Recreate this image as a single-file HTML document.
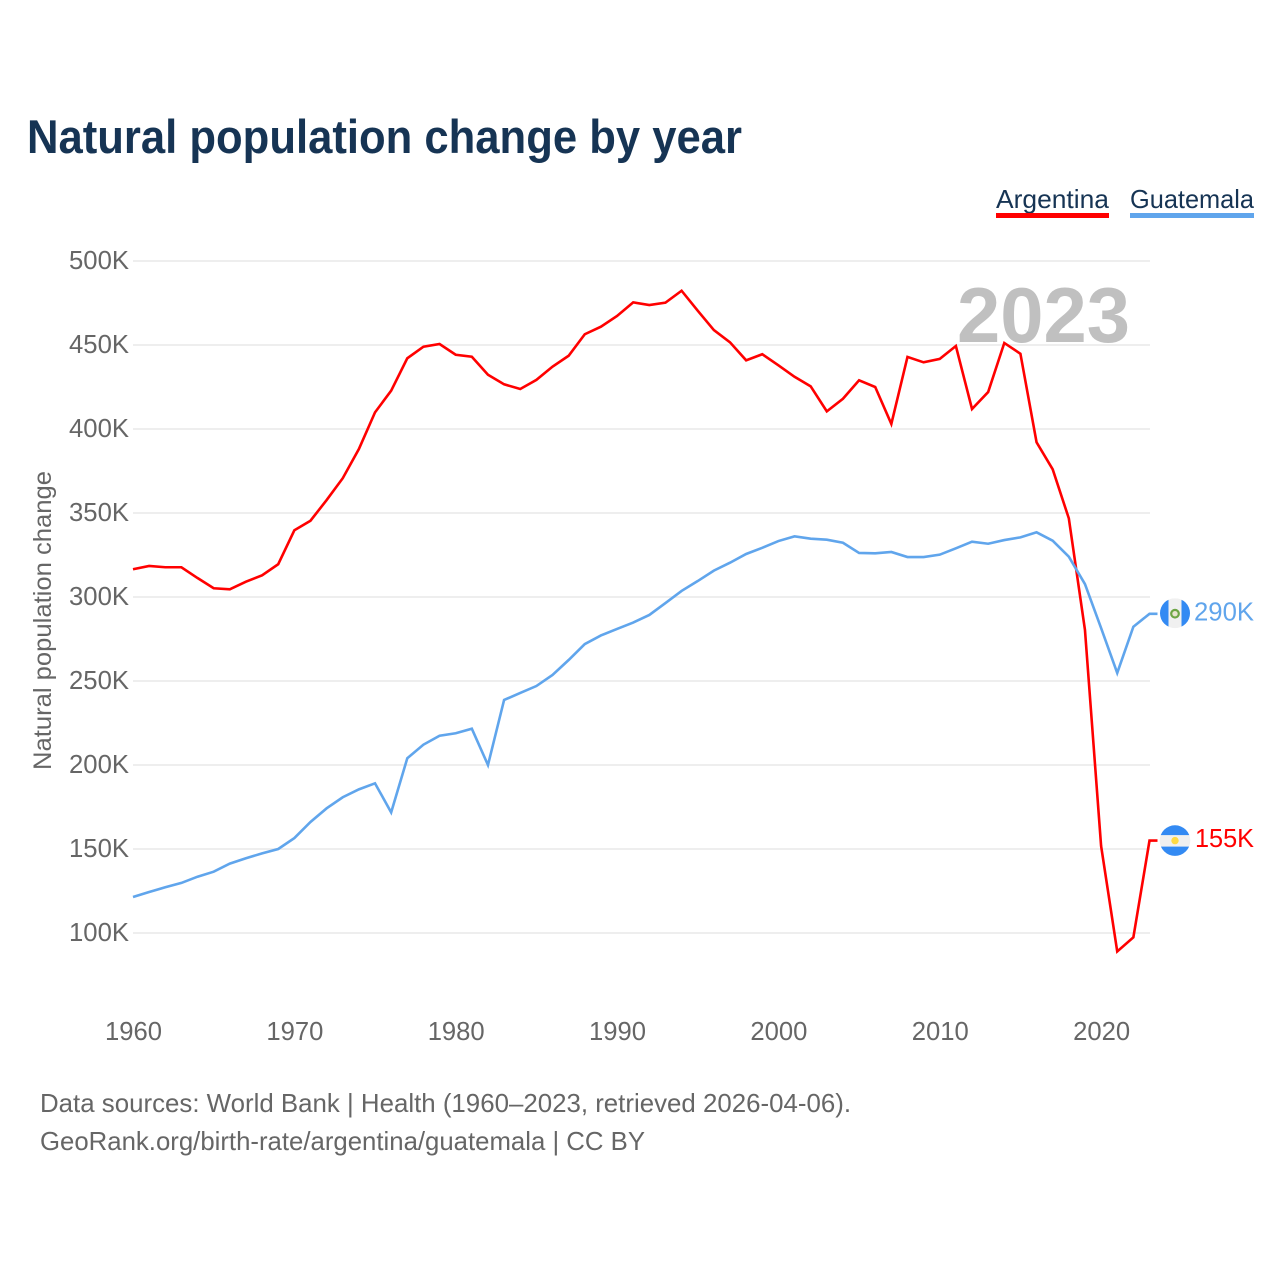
<!DOCTYPE html>
<html lang="en">
<head>
<meta charset="utf-8">
<title>Natural population change by year</title>
<style>
html,body{margin:0;padding:0;background:#fff;}
svg{display:block;}
text{font-family:"Liberation Sans",sans-serif;}
</style>
</head>
<body>
<svg id="chart" xmlns="http://www.w3.org/2000/svg" width="1280" height="1280" viewBox="0 0 1280 1280">
  <rect x="0" y="0" width="1280" height="1280" fill="#ffffff"/>
  <text x="27" y="153" font-size="47" font-weight="700" fill="#163454" textLength="715" lengthAdjust="spacingAndGlyphs">Natural population change by year</text>

  <g>
    <text x="996" y="208" font-size="26" fill="#163454" textLength="113" lengthAdjust="spacingAndGlyphs">Argentina</text>
    <rect x="996" y="213" width="113" height="5" fill="#ff0000"/>
  </g>
  <g>
    <text x="1130" y="208" font-size="26" fill="#163454" textLength="124" lengthAdjust="spacingAndGlyphs">Guatemala</text>
    <rect x="1130" y="213" width="124" height="5" fill="#60a5ec"/>
  </g>

  <g id="grid"></g>
  <g id="yTicks"></g>
  <g id="xTicks"></g>

  <text transform="translate(51,770) rotate(-90)" x="0" y="0" font-size="25" fill="#666666" textLength="299" lengthAdjust="spacingAndGlyphs">Natural population change</text>

  <text id="yearLabel" x="1130" y="342" text-anchor="end" font-size="78" font-weight="700" fill="#c0c0c0" textLength="173" lengthAdjust="spacingAndGlyphs">2023</text>

  <g id="series"></g>

  <g id="flagGuatemala">
    <clipPath id="clipG"><circle cx="0" cy="0" r="15"/></clipPath>
    <g clip-path="url(#clipG)">
      <rect x="-15" y="-15" width="30" height="30" fill="#f0f0f0"/>
      <rect x="-15" y="-15" width="8.5" height="30" fill="#338af3"/>
      <rect x="6.5" y="-15" width="8.5" height="30" fill="#338af3"/>
    </g>
    <circle cx="0" cy="0.5" r="3.8" fill="#e8e4d0" stroke="#6da544" stroke-width="2.2"/>
  </g>
  <g id="flagArgentina">
    <clipPath id="clipA"><circle cx="0" cy="0" r="15.3"/></clipPath>
    <g clip-path="url(#clipA)">
      <rect x="-16" y="-16" width="32" height="32" fill="#f0f0f0"/>
      <rect x="-16" y="-16" width="32" height="10.5" fill="#338af3"/>
      <rect x="-16" y="6" width="32" height="10" fill="#338af3"/>
    </g>
    <circle cx="0" cy="0" r="3.7" fill="#ffda44"/>
  </g>

  <g id="endLabels"></g>

  <text x="40" y="1112" font-size="26" fill="#666666" textLength="811" lengthAdjust="spacingAndGlyphs">Data sources: World Bank | Health (1960–2023, retrieved 2026-04-06).</text>
  <text x="40" y="1150" font-size="26" fill="#666666" textLength="605" lengthAdjust="spacingAndGlyphs">GeoRank.org/birth-rate/argentina/guatemala | CC BY</text>
</svg>
<script>
const firstYear = 1960;
const yTickValues = [100, 150, 200, 250, 300, 350, 400, 450, 500];
const yTickLabels = ["100K", "150K", "200K", "250K", "300K", "350K", "400K", "450K", "500K"];
const xTickValues = [1960, 1970, 1980, 1990, 2000, 2010, 2020];
const xTickLabels = ["1960", "1970", "1980", "1990", "2000", "2010", "2020"];
const argentinaValues = [
  316.5, 318.5, 317.7, 317.7, 311.3, 305.2, 304.6, 309.1, 312.9, 319.5,
  339.7, 345.4, 357.7, 370.7, 388.1, 409.9, 422.8, 442.1, 449.0, 450.6,
  444.2, 443.0, 432.3, 426.6, 423.8, 429.2, 437.1, 443.6, 456.4, 460.9,
  467.3, 475.4, 473.8, 475.2, 482.3, 470.4, 458.9, 451.6, 440.9, 444.5,
  437.9, 431.1, 425.4, 410.5, 418.0, 429.0, 425.0, 403.0, 442.9, 439.7,
  441.7, 449.4, 411.9, 422.0, 451.2, 444.8, 392.1, 376.0, 346.8, 280.4,
  151.8, 89.0, 97.4, 155.0
];
const guatemalaValues = [
  121.4, 124.4, 127.2, 129.8, 133.5, 136.5, 141.3, 144.5, 147.4, 150.0,
  156.5, 166.1, 174.2, 180.8, 185.5, 189.1, 171.8, 204.0, 212.1, 217.4,
  218.9, 221.6, 200.0, 238.7, 242.9, 247.0, 253.6, 262.5, 272.0, 277.1,
  281.0, 284.8, 289.3, 296.4, 303.6, 309.5, 315.7, 320.4, 325.6, 329.3,
  333.3, 336.1, 334.7, 334.1, 332.3, 326.2, 326.0, 326.8, 323.8, 323.8,
  325.2, 329.0, 332.9, 331.7, 333.9, 335.5, 338.5, 333.5, 324.0, 307.7,
  281.5, 254.8, 282.3, 290.0
];

const NS = "http://www.w3.org/2000/svg";
const lastYear = firstYear + argentinaValues.length - 1;
function xScale(year) { return 133 + (year - 1960) * (1149.5 - 133) / 63; }
function yScale(v) { return 933 - (v - 100) * 1.68; }
function svgEl(tag, parent, attrs) {
  const el = document.createElementNS(NS, tag);
  for (const k in attrs) el.setAttribute(k, attrs[k]);
  parent.appendChild(el);
  return el;
}

const gridGroup = document.getElementById("grid");
const yGroup = document.getElementById("yTicks");
yTickValues.forEach(function (v, i) {
  const line = svgEl("line", gridGroup, { x1: 133, x2: 1150, y1: yScale(v), y2: yScale(v), stroke: "#eeeeee", "stroke-width": 2 });
  
  
  const t = svgEl("text", yGroup, { x: 129, y: yScale(v) + 8, "text-anchor": "end", "font-size": 25.5, fill: "#666666", textLength: 60, lengthAdjust: "spacingAndGlyphs" });
  
  
  t.textContent = yTickLabels[i];
});

const xGroup = document.getElementById("xTicks");
xTickValues.forEach(function (year, i) {
  const t = svgEl("text", xGroup, { x: xScale(year) + 0.5, y: 1040, "text-anchor": "middle", "font-size": 26, fill: "#666666", textLength: 57, lengthAdjust: "spacingAndGlyphs" });
  
  
  t.textContent = xTickLabels[i];
});

function seriesPoints(values) {
  const pts = values.map(function (v, i) { return xScale(firstYear + i).toFixed(2) + "," + yScale(v).toFixed(2); });
  const last = values[values.length - 1];
  pts.push((xScale(lastYear) + 8).toFixed(2) + "," + yScale(last).toFixed(2));
  return pts.join(" ");
}
const seriesGroup = document.getElementById("series");
const argentinaLine = svgEl("polyline", seriesGroup, { points: seriesPoints(argentinaValues), fill: "none", stroke: "#ff0000", "stroke-width": 2.6, "stroke-linejoin": "miter" });


const guatemalaLine = svgEl("polyline", seriesGroup, { points: seriesPoints(guatemalaValues), fill: "none", stroke: "#60a5ec", "stroke-width": 2.6, "stroke-linejoin": "miter" });



const gEnd = guatemalaValues[guatemalaValues.length - 1];
const aEnd = argentinaValues[argentinaValues.length - 1];
document.getElementById("flagGuatemala").setAttribute("transform", "translate(1175," + (yScale(gEnd) - 0.6) + ")");
document.getElementById("flagArgentina").setAttribute("transform", "translate(1175," + yScale(aEnd) + ")");

const endGroup = document.getElementById("endLabels");
const gLabel = svgEl("text", endGroup, { x: 1194, y: yScale(gEnd) + 6.5, "font-size": 26, fill: "#60a5ec", textLength: 60, lengthAdjust: "spacingAndGlyphs" });


gLabel.textContent = Math.round(gEnd) + "K";
const aLabel = svgEl("text", endGroup, { x: 1195, y: yScale(aEnd) + 6.5, "font-size": 26, fill: "#ff0000", textLength: 59, lengthAdjust: "spacingAndGlyphs" });


aLabel.textContent = Math.round(aEnd) + "K";
</script>
</body>
</html>
